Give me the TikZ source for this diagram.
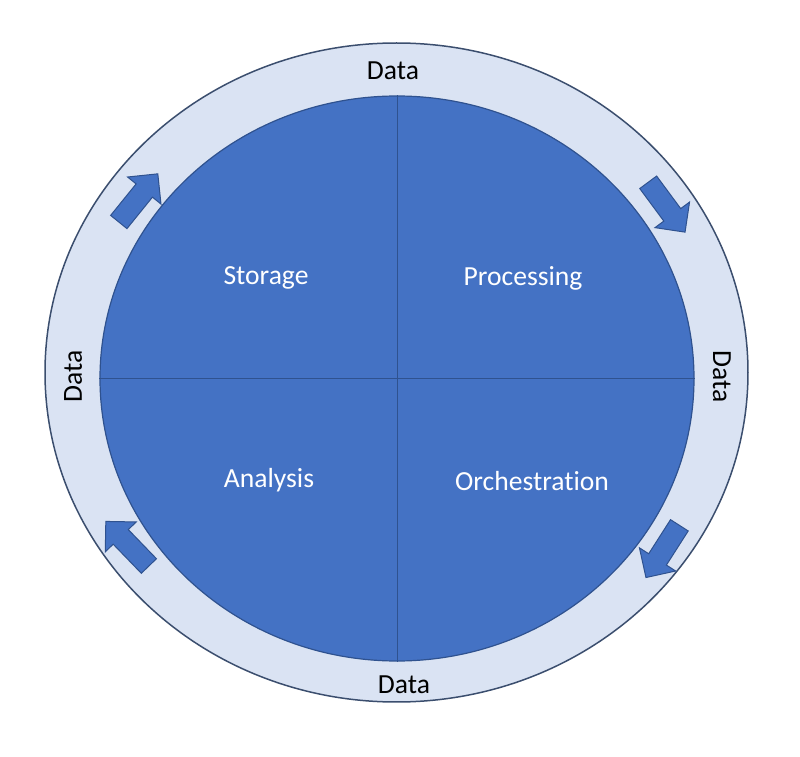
\documentclass[tikz,border=0pt]{standalone}
\usepackage{fontspec}
\setmainfont{Carlito}[Ligatures=NoCommon]
\usepackage{tikz}
\usetikzlibrary{shapes.geometric, shapes.arrows, positioning}
\definecolor{CoreBlue}{RGB}{68, 114, 196}
\definecolor{EdgeBlue}{RGB}{47, 82, 143}
\definecolor{RingBlue}{RGB}{218, 227, 243}
\definecolor{RingEdge}{RGB}{59, 78, 110}
\tikzset{
    ring/.style={ellipse, draw=RingEdge, fill=RingBlue, line width=0.75pt, inner sep=0pt},
    core/.style={ellipse, draw=EdgeBlue, fill=CoreBlue, line width=0.6pt, inner sep=0pt},
    divider/.style={draw=EdgeBlue, line width=0.5pt},
    quadlabel/.style={text=white, font=\fontsize{13.8}{16}\selectfont},
    datalabel/.style={text=black, font=\fontsize{13.8}{16}\selectfont},
    flowarrow/.style={single arrow, draw=EdgeBlue, fill=CoreBlue, line width=0.5pt,
        inner xsep=0pt, inner ysep=5pt, minimum height=31pt, minimum width=21pt,
        single arrow head extend=5.5pt, single arrow tip angle=90}
}
\begin{document}
\begin{tikzpicture}[x=0.5pt, y=0.5pt]
            \useasboundingbox (0, 0) rectangle (800, 757);
            \node[ring, minimum width=351.5pt, minimum height=329.5pt] (outer) at (396.5, 384.5) {};
            \node[core, minimum width=297pt, minimum height=282.5pt] (inner) at (397, 378.5) {};

            \draw[divider] (inner.north) -- (inner.south);
            \draw[divider] (inner.west) -- (inner.east);

            \node[quadlabel] (storage) at (266, 479) {Storage};
            \node[quadlabel] (processing) at (523, 479) {Processing};
            \node[quadlabel] (analysis) at (269, 277) {Analysis};
            \node[quadlabel] (orchestration) at (532, 276) {Orchestration};

            \node[datalabel] (datatop) at (393, 686) {Data};
            \node[datalabel] (databottom) at (404, 72) {Data};
            \node[datalabel, rotate=90] (dataleft) at (73, 381) {Data};
            \node[datalabel, rotate=-90] (dataright) at (722, 380) {Data};

            \node[flowarrow, rotate=51] (arrowtl) at (135, 555) {};
            \node[flowarrow, rotate=-53.5] (arrowtr) at (663.5, 554) {};
            \node[flowarrow, rotate=-122.6] (arrowbr) at (665.5, 210) {};
            \node[flowarrow, rotate=134] (arrowbl) at (131, 209.5) {};
            \end{tikzpicture}
\end{document}
